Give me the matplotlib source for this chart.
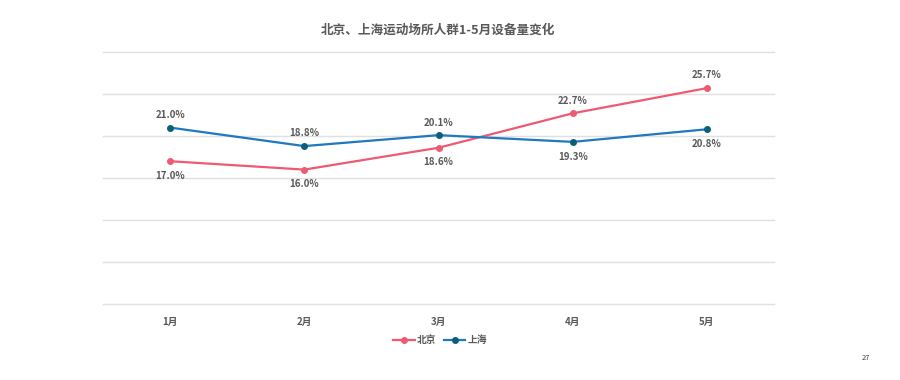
import matplotlib
matplotlib.use("Agg")
import matplotlib.pyplot as plt
from matplotlib.lines import Line2D

plt.rcParams['font.family'] = ['Noto Sans CJK SC', 'DejaVu Sans']

months = ["1月", "2月", "3月", "4月", "5月"]
beijing = [17.0, 16.0, 18.6, 22.7, 25.7]
shanghai = [21.0, 18.8, 20.1, 19.3, 20.8]
beijing_label_pos = ["below", "below", "below", "above", "above"]
shanghai_label_pos = ["above", "above", "above", "below", "below"]

title = "北京、上海运动场所人群1-5月设备量变化"
red_line = "#EE5A72"
blue_line = "#1F78C1"
blue_marker = "#0B5E7C"
text_col = "#595959"
grid_col = "#E0E0E0"

fig = plt.figure(figsize=(9, 3.8), dpi=100)
ax = fig.add_axes([103/900, 1-304/380, (774-103)/900, (304-52)/380])

x = list(range(len(months)))
ax.plot(x, beijing, color=red_line, lw=1.6, marker='o', ms=4.0,
        markerfacecolor=red_line, markeredgecolor=red_line, zorder=3)
ax.plot(x, shanghai, color=blue_line, lw=1.6, marker='o', ms=4.0,
        markerfacecolor=blue_marker, markeredgecolor=blue_marker, zorder=3)

def label(vals, pos):
    for xi, v, p in zip(x, vals, pos):
        off = 5.5 if p == "above" else -7
        ax.annotate(f"{v:.1f}%", (xi, v), xytext=(0, off), textcoords='offset points',
                    ha='center', va='bottom' if p == "above" else 'top',
                    fontsize=7, fontweight='bold', color=text_col)

label(beijing, beijing_label_pos)
label(shanghai, shanghai_label_pos)

ax.set_xlim(-0.5, len(months) - 0.5)
ax.set_ylim(0, 30)
ax.set_yticks([0, 5, 10, 15, 20, 25, 30])
ax.yaxis.grid(True, color=grid_col, lw=1.0)
for gl in ax.get_ygridlines():
    gl.set_clip_on(False)
ax.set_axisbelow(True)
ax.set_yticklabels([])
ax.tick_params(axis='y', length=0)
ax.set_xticks(x)
ax.set_xticklabels(months, fontsize=7, fontweight='bold', color=text_col)
ax.tick_params(axis='x', length=0, pad=9)
for s in ax.spines.values():
    s.set_visible(False)

fig.text(438/900, 1-30/380, title, ha='center', va='center', fontsize=9.1,
         fontweight='bold', color=text_col)

handles = [Line2D([0], [0], color=red_line, lw=1.6, marker='o', ms=4.0,
                  markerfacecolor=red_line, markeredgecolor=red_line),
           Line2D([0], [0], color=blue_line, lw=1.6, marker='o', ms=4.0,
                  markerfacecolor=blue_marker, markeredgecolor=blue_marker)]
leg = fig.legend(handles, ["北京", "上海"], loc='center', bbox_to_anchor=(440/900, 1-340/380),
                 ncol=2, frameon=False, handlelength=2.2, handletextpad=0.2, columnspacing=0.8,
                 prop={'size': 7, 'weight': 'bold'})
for t in leg.get_texts():
    t.set_color(text_col)

fig.text(866/900, 1-358/380, "27", ha='center', va='center', fontsize=5.5, color="#404040")

fig.savefig("out.png", dpi=100)
